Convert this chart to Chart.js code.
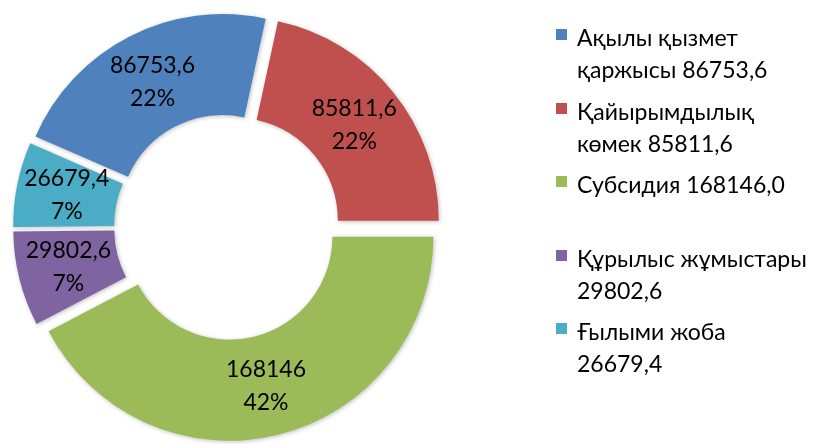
<!DOCTYPE html>
<html>
<head>
<meta charset="utf-8">
<script src="https://cdn.jsdelivr.net/npm/chart.js@4.4.1/dist/chart.umd.min.js"></script>
<style>
  html, body { margin: 0; padding: 0; background: #fff; }
  #wrap { position: relative; width: 817px; height: 444px; }
  #legend { position: absolute; left: 556px; top: 21px; width: 261px; font-family: Lato, sans-serif; font-size: 23px; color: #000; }
  .item { position: relative; height: 73.5px; }
  .box { position: absolute; left: 0; top: 8px; width: 11px; height: 11px; }
  .txt { position: absolute; left: 21px; top: 0; width: 234px; line-height: 32px; }
</style>
</head>
<body>
<div id="wrap">
  <canvas id="grafica" width="817" height="444"></canvas>
  <div id="legend"></div>
</div>
<script>
const categorias = ['Ақылы қызмет қаржысы', 'Қайырымдылық көмек', 'Субсидия', 'Құрылыс жұмыстары', 'Ғылыми жоба'];
const valores = [86753.6, 85811.6, 168146.0, 29802.6, 26679.4];
const porcentajes = ['22%', '22%', '42%', '7%', '7%'];
const colores = ['#4F81BD', '#C0504D', '#9BBB59', '#8064A2', '#4BACC6'];

const separacion = 10; // desplazamiento de cada sector hacia fuera

// dibuja los sectores separados del centro (explosionados)
const explosion = {
    id: 'explosion',
    beforeDatasetDraw(chart, args) {
        const ctx = chart.ctx;
        args.meta.data.forEach(arc => {
            const mitad = (arc.startAngle + arc.endAngle) / 2;
            ctx.save();
            ctx.shadowColor = 'rgba(0,0,0,0.25)';
            ctx.shadowBlur = 4;
            ctx.shadowOffsetX = 1;
            ctx.shadowOffsetY = 1;
            ctx.translate(Math.cos(mitad) * separacion, Math.sin(mitad) * separacion);
            arc.draw(ctx);
            ctx.restore();
        });
        return false;
    }
};

// etiquetas dentro de cada sector: valor y porcentaje
const etiquetas = {
    id: 'etiquetas',
    afterDatasetsDraw(chart) {
        const ctx = chart.ctx;
        const meta = chart.getDatasetMeta(0);
        ctx.save();
        ctx.font = '23px Lato';
        ctx.fillStyle = '#000';
        ctx.textAlign = 'center';
        ctx.textBaseline = 'middle';
        meta.data.forEach((arc, i) => {
            const mitad = (arc.startAngle + arc.endAngle) / 2;
            const r = (arc.innerRadius + arc.outerRadius) / 2 + separacion;
            const x = arc.x + Math.cos(mitad) * r;
            const y = arc.y + Math.sin(mitad) * r;
            const v = String(valores[i]).replace('.', ',');
            ctx.fillText(v, x, y - 16);
            ctx.fillText(porcentajes[i], x, y + 17);
        });
        ctx.restore();
    }
};

function crearGrafica(idCaja) {
    const ctx = document.getElementById(idCaja);
    return new Chart(ctx, {
        type: 'doughnut',
        data: {
            labels: categorias,
            datasets: [{
                data: valores,
                backgroundColor: colores,
                borderWidth: 0
            }]
        },
        options: {
            responsive: false,
            animation: false,
            rotation: -66.4,
            cutout: '50.5%',
            layout: { padding: { left: 23, top: 23, right: 386, bottom: 13 } },
            plugins: {
                legend: { display: false },
                tooltip: { enabled: false }
            }
        },
        plugins: [explosion, etiquetas]
    });
}

function crearLeyenda() {
    const cont = document.getElementById('legend');
    categorias.forEach((nombre, i) => {
        const item = document.createElement('div');
        item.className = 'item';
        item.innerHTML = '<div class="box" style="background:' + colores[i] + '"></div>' +
            '<div class="txt">' + nombre + ' ' + valores[i].toFixed(1).replace('.', ',') + '</div>';
        cont.appendChild(item);
    });
}

crearLeyenda();
document.fonts.load('23px Lato').then(() => crearGrafica('grafica'));
</script>
</body>
</html>
